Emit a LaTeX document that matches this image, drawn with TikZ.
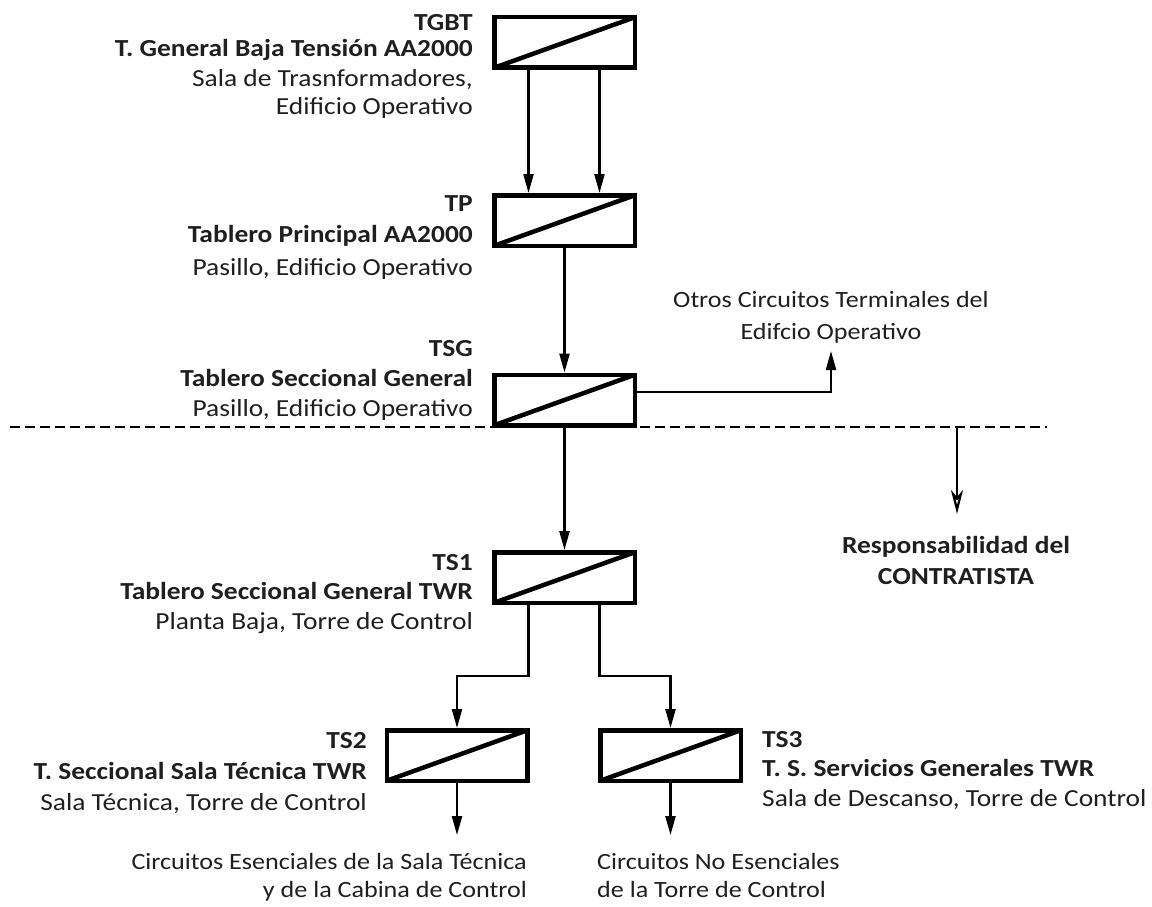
\documentclass[tikz,border=0pt]{standalone}
\usepackage{fontspec}
\setmainfont{Carlito}[FakeStretch=1.12]
\usetikzlibrary{arrows.meta}
\begin{document}
\begin{tikzpicture}[x=1pt,y=-1pt,
  board/.style={draw=black, line width=4.5pt, minimum width=140.5pt, minimum height=50.5pt,
    inner sep=0pt, fill=white,
    path picture={\draw[line width=4.5pt] (path picture bounding box.south west) -- (path picture bounding box.north east);}},
  conn/.style={line width=2.2pt, -{Triangle[length=19pt,width=10pt]}},
  hd/.style={inner sep=0pt, font=\fontsize{24.5}{30}\selectfont\bfseries, text=black!88},
  tx/.style={inner sep=0pt, font=\fontsize{24.5}{30}\selectfont, text=black!88},
  note/.style={inner sep=0pt, font=\fontsize{23.3}{28}\selectfont, text=black!88},
  hdR/.style={hd, anchor=base east},
  txR/.style={tx, anchor=base east},
  hdL/.style={hd, anchor=base west},
  txL/.style={tx, anchor=base west},
  hdC/.style={hd, anchor=base},
  noteR/.style={note, anchor=base east},
  noteL/.style={note, anchor=base west},
  noteC/.style={note, anchor=base},
  divider/.style={line width=2pt, dash pattern=on 10pt off 5pt}
]
\useasboundingbox (0,0) rectangle (1152,907);

% boards
\node[board] (tgbt) at (564.5,42.5) {};
\node[board] (tp)   at (564.5,220.5) {};
\node[board] (tsg)  at (564.5,400) {};
\node[board] (ts1)  at (564.5,577.5) {};
\node[board] (ts2)  at (457,755.5) {};
\node[board] (ts3)  at (670.5,755.5) {};

% labels TGBT
\node[hdR] (tgbt-a) at (473,31) {TGBT};
\node[hdR] (tgbt-b) at (473,57) {T. General Baja Tensión AA2000};
\node[txR] (tgbt-c) at (473,87) {Sala de Trasnformadores,};
\node[txR] (tgbt-d) at (473,114) {Edificio Operativo};
% TP
\node[hdR] (tp-a) at (473,211) {TP};
\node[hdR] (tp-b) at (473,242) {Tablero Principal AA2000};
\node[txR] (tp-c) at (473,275) {Pasillo, Edificio Operativo};
% TSG
\node[hdR] (tsg-a) at (473,356) {TSG};
\node[hdR] (tsg-b) at (473,386) {Tablero Seccional General};
\node[txR] (tsg-c) at (473,416) {Pasillo, Edificio Operativo};
% TS1
\node[hdR] (ts1-a) at (473,570) {TS1};
\node[hdR] (ts1-b) at (473,599) {Tablero Seccional General TWR};
\node[txR] (ts1-c) at (473,629) {Planta Baja, Torre de Control};
% TS2
\node[hdR] (ts2-a) at (367,748) {TS2};
\node[hdR] (ts2-b) at (367,779) {T. Seccional Sala Técnica TWR};
\node[txR] (ts2-c) at (367,810) {Sala Técnica, Torre de Control};
% TS3
\node[hdL] (ts3-a) at (762,747) {TS3};
\node[hdL] (ts3-b) at (762,776) {T. S. Servicios Generales TWR};
\node[txL] (ts3-c) at (762,806) {Sala de Descanso, Torre de Control};

% other texts
\node[noteC] (otros-a) at (831,307) {Otros Circuitos Terminales del};
\node[noteC] (otros-b) at (831,339) {Edifcio Operativo};
\node[hdC] (resp-a) at (956,553) {Responsabilidad del};
\node[hdC] (resp-b) at (956,584) {CONTRATISTA};
\node[noteR] (ese-a) at (527,869) {Circuitos Esenciales de la Sala Técnica};
\node[noteR] (ese-b) at (527,897) {y de la Cabina de Control};
\node[noteL] (noe-a) at (597,869) {Circuitos No Esenciales};
\node[noteL] (noe-b) at (597,897) {de la Torre de Control};

% free ends
\coordinate (otros-tip) at (831,351);
\coordinate (ts2-out) at (457,835);
\coordinate (ts3-out) at (670.5,835);
\coordinate (div-l) at (10,427);
\coordinate (div-r) at (1047,427);
\coordinate (resp-top) at (957,427);
\coordinate (resp-tip) at (957,514);

% connectors
\draw[conn] ([xshift=-36pt]tgbt.south) -- ([xshift=-36pt]tp.north);
\draw[conn] ([xshift=35pt]tgbt.south) -- ([xshift=35pt]tp.north);
\draw[conn] (tp.south) -- (tsg.north);
\draw[conn] (tsg.south) -- (ts1.north);
\draw[conn] ([yshift=8pt]tsg.east) -| (otros-tip);
\draw[conn] ([xshift=-36pt]ts1.south) -- ++(0,71) -| (ts2.north);
\draw[conn] ([xshift=35pt]ts1.south) -- ++(0,71) -| (ts3.north);
\draw[conn] (ts2.south) -- (ts2-out);
\draw[conn] (ts3.south) -- (ts3-out);

% responsibility divider
\draw[divider] (div-l) -- (div-r);
\draw[line width=2.2pt, -{Stealth[open, length=24pt, width=12pt, inset=7pt]}] (resp-top) -- (resp-tip);
\end{tikzpicture}
\end{document}
